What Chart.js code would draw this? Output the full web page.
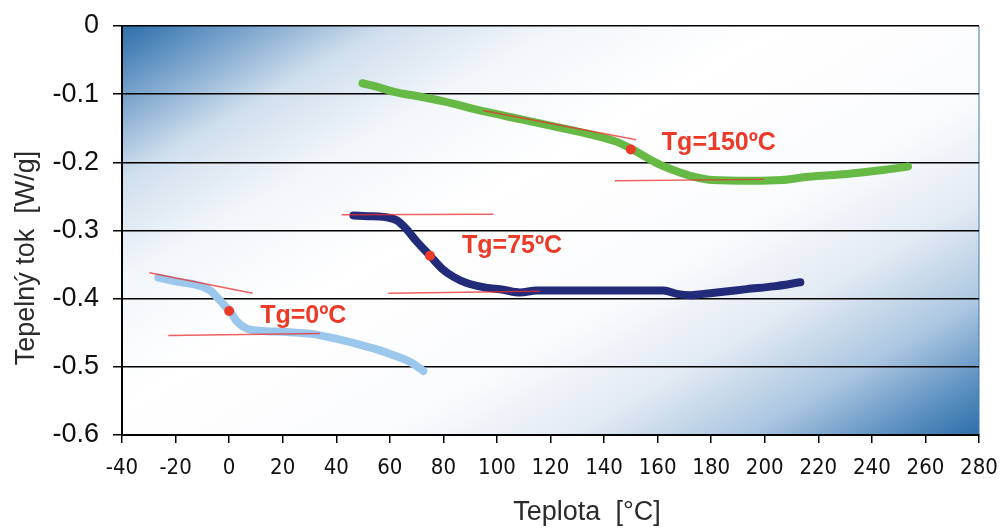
<!DOCTYPE html>
<html>
<head>
<meta charset="utf-8">
<script src="https://cdn.jsdelivr.net/npm/chart.js@4/dist/chart.umd.min.js"></script>
<style>
  html, body { margin: 0; padding: 0; background: #fff; }
  #wrap { width: 1000px; height: 528px; }
</style>
</head>
<body>
<div id="wrap"><canvas id="chart"></canvas></div>
<script>
// DSC curves: temperature [°C] vs heat flow [W/g]
var blueTemp = [-26.4, -19.6, -12.1, -7.1, -4.0, -1.5, 0.3, 2.8, 6.6, 11.5, 21.5, 31.5, 39.0, 46.4, 53.9, 61.4, 67.6, 72.5];
var blueFlow = [-0.369, -0.375, -0.380, -0.388, -0.400, -0.411, -0.418, -0.433, -0.444, -0.447, -0.449, -0.452, -0.458, -0.465, -0.473, -0.483, -0.493, -0.506];

var navyTemp = [46.4, 52, 57.6, 62.5, 66, 70, 75.0, 79.5, 83.8, 88.7, 94.9, 102.4, 108.6, 114.8, 124.8, 137.3, 149.7, 162.2, 167.2, 172.1, 177.1, 184.6, 193.3, 203.3, 213.3];
var navyFlow = [-0.278, -0.279, -0.280, -0.285, -0.297, -0.316, -0.337, -0.356, -0.368, -0.377, -0.383, -0.387, -0.391, -0.388, -0.388, -0.388, -0.388, -0.388, -0.393, -0.395, -0.393, -0.390, -0.386, -0.382, -0.376];

var greenTemp = [49.8, 55, 62, 70.5, 80.5, 94.8, 109.1, 123.4, 134.8, 144.8, 152, 159.1, 166.3, 173.4, 180.6, 194.9, 206.3, 216.3, 230.6, 244.9, 253.5];
var greenFlow = [-0.084, -0.089, -0.097, -0.103, -0.111, -0.125, -0.137, -0.149, -0.159, -0.170, -0.184, -0.200, -0.212, -0.221, -0.226, -0.227, -0.226, -0.221, -0.217, -0.211, -0.206];

// tangent segments used to find Tg (start/end temperature and flow)
var tangentTemp = [[-29.8, 8.8], [-22.7, 33.9], [42, 98.7], [59.4, 116], [94.8, 152], [144, 199.7]];
var tangentFlow = [[-0.362, -0.392], [-0.454, -0.451], [-0.277, -0.276], [-0.392, -0.389], [-0.124, -0.167], [-0.227, -0.225]];

// glass transitions
var tgTemp = [0, 75, 150];
var tgFlow = [-0.418, -0.337, -0.181];

var xTicks = [-40, 280, 20];
var yTicks = [-0.6, 0, 0.1];

var red = 'rgb(236, 58, 40)';
var labelShift = [[31, 5], [32, -10], [31, -6]];

function pts(xs, ys) {
    return xs.map(function (x, i) { return { x: x, y: ys[i] }; });
}

function curve(xs, ys, color) {
    return {
        data: pts(xs, ys),
        borderColor: color,
        borderWidth: 8,
        pointRadius: 0,
        tension: 0.4,
        cubicInterpolationMode: 'monotone',
        borderCapStyle: 'round',
        borderJoinStyle: 'round',
        order: 3
    };
}

var datasets = [
    {
        data: pts(tgTemp, tgFlow),
        showLine: false,
        pointRadius: 5,
        pointBackgroundColor: red,
        pointBorderWidth: 0,
        order: 0
    }
];
tangentTemp.forEach(function (t, i) {
    datasets.push({
        data: pts(t, tangentFlow[i]),
        borderColor: 'rgba(235, 45, 45, 0.75)',
        borderWidth: 1.5,
        pointRadius: 0,
        tension: 0,
        order: 1
    });
});
datasets.push(curve(blueTemp, blueFlow, '#9cc7ec'));
datasets.push(curve(navyTemp, navyFlow, '#212b7a'));
datasets.push(curve(greenTemp, greenFlow, '#66b944'));

// diagonal blue-white-blue fill behind the plot area
var plotBackground = {
    id: 'plotBackground',
    beforeDraw: function (chart) {
        var a = chart.chartArea, ctx = chart.ctx;
        var w = a.right - a.left, h = a.bottom - a.top;
        var dx = 0.5, dy = 0.866;
        var len = w * dx + h * dy;
        var g = ctx.createLinearGradient(a.left, a.top, a.left + dx * len, a.top + dy * len);
        g.addColorStop(0, 'rgb(45, 110, 170)');
        g.addColorStop(0.07, 'rgb(110, 156, 200)');
        g.addColorStop(0.17, 'rgb(208, 223, 237)');
        g.addColorStop(0.28, 'rgb(242, 246, 250)');
        g.addColorStop(0.42, '#ffffff');
        g.addColorStop(0.62, 'rgb(250, 251, 253)');
        g.addColorStop(0.74, 'rgb(226, 234, 243)');
        g.addColorStop(0.85, 'rgb(172, 199, 225)');
        g.addColorStop(0.94, 'rgb(92, 144, 193)');
        g.addColorStop(1, 'rgb(45, 110, 170)');
        ctx.save();
        ctx.fillStyle = g;
        ctx.fillRect(a.left, a.top, w, h);
        ctx.strokeStyle = 'rgba(70, 125, 180, 0.7)';
        ctx.lineWidth = 1.5;
        ctx.beginPath();
        ctx.moveTo(a.right, a.top);
        ctx.lineTo(a.right, a.bottom);
        ctx.stroke();
        ctx.restore();
    }
};

// axis titles and Tg labels
var annotations = {
    id: 'annotations',
    afterDraw: function (chart) {
        var ctx = chart.ctx;
        var xs = chart.scales.x, ys = chart.scales.y;
        ctx.save();
        ctx.fillStyle = '#2b2b2b';
        ctx.font = '27px "Liberation Sans", Arial, sans-serif';
        ctx.textAlign = 'center';
        ctx.textBaseline = 'middle';
        ctx.fillText('Teplota  [°C]', 587, 513);
        ctx.translate(27, 258);
        ctx.rotate(-Math.PI / 2);
        ctx.fillText('Tepelný tok  [W/g]', 0, 0);
        ctx.restore();

        ctx.save();
        ctx.fillStyle = red;
        ctx.font = 'bold 25px "Liberation Sans", Arial, sans-serif';
        ctx.textAlign = 'left';
        ctx.textBaseline = 'middle';
        tgTemp.forEach(function (t, i) {
            var px = xs.getPixelForValue(t) + labelShift[i][0];
            var py = ys.getPixelForValue(tgFlow[i]) + labelShift[i][1];
            ctx.fillText('Tg=' + t + 'ºC', px, py);
        });
        ctx.restore();
    }
};

new Chart(document.getElementById('chart'), {
    type: 'line',
    data: { datasets: datasets },
    options: {
        animation: false,
        responsive: true,
        maintainAspectRatio: false,
        events: [],
        layout: { padding: { top: 26, right: 21, left: 0, bottom: 0 } },
        plugins: { legend: { display: false }, tooltip: { enabled: false } },
        scales: {
            x: {
                type: 'linear',
                min: xTicks[0],
                max: xTicks[1],
                ticks: {
                    stepSize: xTicks[2],
                    color: '#111',
                    padding: 12,
                    maxRotation: 0,
                    font: { family: '"Liberation Sans Narrow", "DejaVu Sans Condensed", Arial, sans-serif', size: 22 }
                },
                grid: { drawOnChartArea: false, color: '#000', lineWidth: 1.5, tickLength: 8 },
                border: { color: '#000', width: 2 },
                afterFit: function (s) { s.height = 93; s.paddingLeft = 0; s.paddingRight = 0; }
            },
            y: {
                min: yTicks[0],
                max: yTicks[1],
                ticks: {
                    stepSize: yTicks[2],
                    color: '#111',
                    padding: 14,
                    font: { family: '"Liberation Sans", Arial, sans-serif', size: 27 },
                    callback: function (v) { return Math.abs(v) < 1e-9 ? '0' : v.toFixed(1); }
                },
                grid: { color: '#000', lineWidth: 1.5, tickLength: 9 },
                border: { color: '#000', width: 2 },
                afterFit: function (s) { s.width = 122; s.paddingTop = 0; s.paddingBottom = 0; }
            }
        }
    },
    plugins: [plotBackground, annotations]
});
</script>
</body>
</html>
